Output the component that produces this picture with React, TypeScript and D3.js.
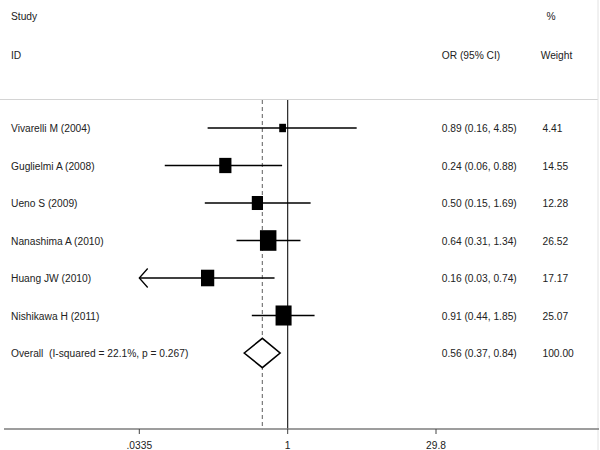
import React, { useEffect, useRef } from 'react';
import * as d3 from 'd3';

const studies = [
  'Vivarelli M (2004)',
  'Guglielmi A (2008)',
  'Ueno S (2009)',
  'Nanashima A (2010)',
  'Huang JW (2010)',
  'Nishikawa H (2011)',
];
const orValues = [0.89, 0.24, 0.5, 0.64, 0.16, 0.91];
const lowerCI = [0.16, 0.06, 0.15, 0.31, 0.03, 0.44];
const upperCI = [4.85, 0.88, 1.69, 1.34, 0.74, 1.85];
const weights = [4.41, 14.55, 12.28, 26.52, 17.17, 25.07];

const overallLabel = 'Overall  (I-squared = 22.1%, p = 0.267)';
const overallOR = [0.56, 0.37, 0.84];
const overallWeight = 100.0;

const axisTicks = [0.0335, 1, 29.8];
const tickLabels = ['.0335', '1', '29.8'];

const W = 600;
const H = 450;
const SX = 0.89; // the export is squeezed horizontally

const fmt = d3.format('.2f');

const ForestPlot = () => {
  const ref = useRef<SVGSVGElement>(null);

  useEffect(() => {
    if (!ref.current) return;
    const svg = d3.select(ref.current);
    svg.selectAll('*').remove();

    const x = d3.scaleLog().domain([axisTicks[0], axisTicks[2]]).range([139.3, 436]);
    const rows = [...studies, overallLabel];
    const y = d3.scalePoint<string>().domain(rows).range([128, 353]);
    const boxW = d3.scaleSqrt().domain([0, 1]).range([0, 3.2]);
    const boxH = d3.scaleSqrt().domain([0, 1]).range([0, 4.0]);

    const plotTop = 100;
    const axisY = 429;

    const text = (tx: number, ty: number, s: string, anchor = 'start') =>
      svg.append('text')
        .attr('transform', `translate(${tx},${ty}) scale(${SX},1)`)
        .attr('dominant-baseline', 'central')
        .attr('text-anchor', anchor)
        .style('font-family', 'Arial, "Liberation Sans", sans-serif')
        .style('font-size', '11.5px')
        .style('white-space', 'pre')
        .attr('fill', '#222')
        .text(s);

    // frame bits
    svg.append('line')
      .attr('x1', 0).attr('x2', 598).attr('y1', 99.5).attr('y2', 99.5)
      .attr('stroke', '#d4d4d4').attr('stroke-width', 1);
    svg.append('line')
      .attr('x1', 598).attr('x2', 598).attr('y1', 0).attr('y2', H)
      .attr('stroke', '#e2e2e2').attr('stroke-width', 1);

    // headers
    text(11, 16, 'Study');
    text(11, 55, 'ID');
    text(441.7, 55, 'OR (95% CI)');
    text(546.5, 16, '%');
    text(540.7, 55, 'Weight');

    // reference lines
    svg.append('line')
      .attr('x1', x(overallOR[0])).attr('x2', x(overallOR[0]))
      .attr('y1', plotTop).attr('y2', axisY)
      .attr('stroke', '#7a7a7a').attr('stroke-width', 1.2)
      .attr('stroke-dasharray', '4,3');
    svg.append('line')
      .attr('x1', x(1)).attr('x2', x(1))
      .attr('y1', plotTop).attr('y2', axisY)
      .attr('stroke', '#111').attr('stroke-width', 1.1);

    // study rows
    studies.forEach((s, i) => {
      const cy = y(s)!;
      const lo = Math.max(lowerCI[i], axisTicks[0]);
      const hi = Math.min(upperCI[i], axisTicks[2]);
      svg.append('line')
        .attr('x1', x(lo)).attr('x2', x(hi))
        .attr('y1', cy).attr('y2', cy)
        .attr('stroke', '#000').attr('stroke-width', 1.6);
      if (lowerCI[i] < axisTicks[0]) {
        const ax = x(axisTicks[0]);
        svg.append('path')
          .attr('d', `M${ax + 8.4},${cy - 9.5}L${ax},${cy}L${ax + 8.4},${cy + 9.5}`)
          .attr('fill', 'none').attr('stroke', '#000').attr('stroke-width', 1.3);
      }
      const bw = boxW(weights[i]);
      const bh = boxH(weights[i]);
      svg.append('rect')
        .attr('x', x(orValues[i]) - bw / 2).attr('y', cy - bh / 2)
        .attr('width', bw).attr('height', bh)
        .attr('fill', '#000');

      text(11, cy, s);
      text(441.7, cy, `${fmt(orValues[i])} (${fmt(lowerCI[i])}, ${fmt(upperCI[i])})`);
      text(542.5, cy, fmt(weights[i]));
    });

    // overall diamond
    const oy = y(overallLabel)!;
    const dh = 14.7;
    svg.append('path')
      .attr('d', `M${x(overallOR[1])},${oy}L${x(overallOR[0])},${oy - dh}L${x(overallOR[2])},${oy}L${x(overallOR[0])},${oy + dh}Z`)
      .attr('fill', '#fff').attr('stroke', '#000').attr('stroke-width', 1.6);
    text(11, oy, overallLabel);
    text(441.7, oy, `${fmt(overallOR[0])} (${fmt(overallOR[1])}, ${fmt(overallOR[2])})`);
    text(542.5, oy, fmt(overallWeight));

    // axis
    svg.append('line')
      .attr('x1', 4).attr('x2', 599).attr('y1', axisY).attr('y2', axisY)
      .attr('stroke', '#7d7d7d').attr('stroke-width', 1.5);
    axisTicks.forEach((t, i) => {
      svg.append('line')
        .attr('x1', x(t)).attr('x2', x(t))
        .attr('y1', axisY).attr('y2', axisY + 5)
        .attr('stroke', '#444').attr('stroke-width', 1);
      text(x(t), 445, tickLabels[i], 'middle');
    });
  }, []);

  return (
    <svg
      ref={ref}
      width={W}
      height={H}
      style={{ position: 'absolute', left: 0, top: 0, background: '#fff' }}
    />
  );
};

export default function App() {
  return <ForestPlot />;
}
